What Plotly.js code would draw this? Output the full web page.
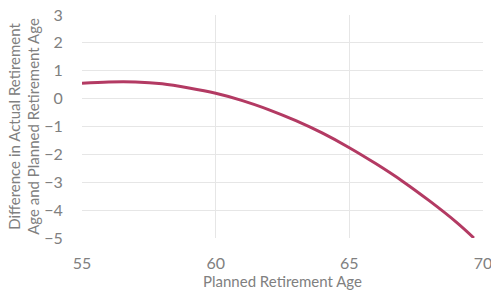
<!DOCTYPE html>
<html><head><meta charset="utf-8">
<script src="https://cdn.plot.ly/plotly-3.0.1.min.js"></script>
<style>html,body{margin:0;padding:0;background:#fff;}#chart{width:491px;height:291px;}</style>
</head><body><div id="chart"></div>
<script>
const plannedAge = [55, 56, 57, 58, 59, 60, 61, 62, 63, 64, 65, 66, 67, 68, 69, 69.66];
const ageDifference = [0.55, 0.60, 0.60, 0.53, 0.38, 0.19, -0.07, -0.40, -0.79, -1.24, -1.76, -2.34, -2.97, -3.67, -4.43, -5.0];
const xTicks = [55, 60, 65, 70];
const yTicks = [-5, -4, -3, -2, -1, 0, 1, 2, 3];

const font = {family: 'Lato, Open Sans, sans-serif', color: '#808080'};
Plotly.newPlot('chart', [{
  x: plannedAge, y: ageDifference, type: 'scatter', mode: 'lines',
  line: {color: '#B33A63', width: 3, shape: 'spline'}, hoverinfo: 'none'
}], {
  width: 491, height: 291,
  margin: {l: 82, r: 8, t: 15, b: 53},
  paper_bgcolor: '#fff', plot_bgcolor: '#fff',
  showlegend: false,
  font: font,
  xaxis: {range: [55, 70], tickvals: xTicks, showgrid: true, gridcolor: '#e6e6e6', zeroline: false,
    showline: false, ticks: 'outside', ticklen: 11, tickcolor: 'rgba(0,0,0,0)',
    ticklabeloverflow: 'allow',
    tickfont: {size: 16, color: '#808080'},
    title: {text: 'Planned Retirement Age', font: {size: 15, color: '#808080'}, standoff: 4}},
  yaxis: {range: [-5, 3], tickvals: yTicks, showgrid: true, gridcolor: '#e6e6e6', zeroline: false,
    showline: false, ticks: 'outside', ticklen: 15, tickcolor: 'rgba(0,0,0,0)',
    tickfont: {size: 16, color: '#808080'},
    title: {text: 'Difference in Actual Retirement<br>Age and Planned Retirement Age', font: {size: 15, color: '#808080'}, standoff: 0}}
}, {staticPlot: true});
</script></body></html>
